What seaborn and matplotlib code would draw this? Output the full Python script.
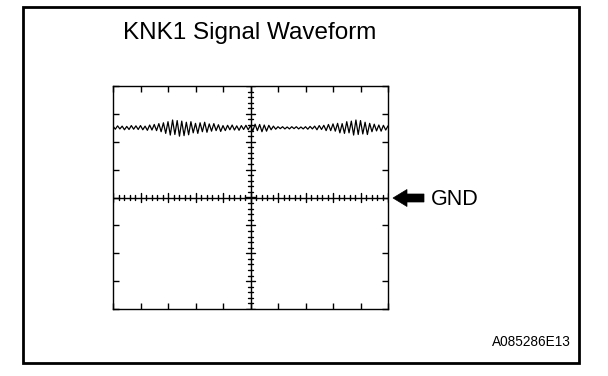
import numpy as np
import pandas as pd
import matplotlib
matplotlib.use("Agg")
import matplotlib.pyplot as plt
from matplotlib.patches import Rectangle, Polygon
import seaborn as sns

# ---- data (oscilloscope divisions) ----
title = "KNK1 Signal Waveform"
gnd_label = "GND"
code_label = "A085286E13"
x_divs = [-5, 5]
y_divs = [-4, 4]
signal_level = 2.5  # divisions above GND
# waveform deviation from signal level, sampled every 1/12 division from -5 to 5
wave_dev = [
    0.06, -0.05, 0.07, -0.04, 0.06, -0.07, 0.05, -0.06, 0.08, -0.05, 0.07, -0.06,
    0.08, -0.07, 0.06, -0.09, 0.10, -0.08,
    0.12, -0.10, 0.15, -0.14, 0.18, -0.20,
    0.22, -0.26, 0.28, -0.24, 0.26, -0.30,
    0.24, -0.28, 0.20, -0.25, 0.22, -0.18,
    0.16, -0.20, 0.18, -0.14, 0.20, -0.16,
    0.14, -0.12, 0.15, -0.10, 0.11, -0.13,
    0.08, -0.10, 0.09, -0.07, 0.10, -0.08, 0.07, -0.09, 0.08, -0.06, 0.09, -0.07,
    0.08, -0.11, 0.13, -0.10, 0.12, -0.14, 0.10, -0.12, 0.09, -0.07, 0.06, -0.05,
    0.04, -0.03, 0.04, -0.04, 0.03, -0.04, 0.04, -0.03, 0.04, -0.04, 0.03, -0.04,
    0.04, -0.05, 0.05, -0.04, 0.06, -0.07, 0.08, -0.06, 0.09, -0.10, 0.12, -0.10,
    0.14, -0.12, 0.16, -0.18, 0.15, -0.20, 0.22, -0.18, 0.24, -0.26, 0.28, -0.24,
    0.26, -0.22, 0.20, -0.24, 0.16, -0.14, 0.13, -0.11, 0.10, -0.12, 0.09, -0.08, 0.07,
]
wave_t = np.linspace(x_divs[0], x_divs[1], len(wave_dev))

df = pd.DataFrame({"t": wave_t, "v": signal_level + np.array(wave_dev)})

sns.set_style("white")
plt.rcParams["font.family"] = ["Liberation Sans", "DejaVu Sans"]

W, H = 608, 376
fig = plt.figure(figsize=(W / 100, H / 100), dpi=100)
fig.patch.set_facecolor("white")

def fx(px):
    return px / W

def fy(py):
    return 1 - py / H

# outer frame
fig.patches.append(Rectangle((fx(23), fy(363)), fx(579) - fx(23), fy(7) - fy(363),
                             transform=fig.transFigure, fill=False, lw=2.0,
                             edgecolor="black"))

ax = fig.add_axes([fx(113), fy(309), fx(388) - fx(113), fy(86) - fy(309)])
sns.lineplot(data=df, x="t", y="v", ax=ax, color="black", lw=0.9)
ax.set_xlim(*x_divs)
ax.set_ylim(*y_divs)
ax.set_xlabel("")
ax.set_ylabel("")
for s in ax.spines.values():
    s.set_visible(True)
    s.set_color("black")
    s.set_linewidth(1.0)
ax.set_xticks(np.arange(x_divs[0], x_divs[1] + 1, 1))
ax.set_yticks(np.arange(y_divs[0], y_divs[1] + 1, 1))
ax.tick_params(direction="in", length=4, width=1, top=True, right=True,
               bottom=True, left=True, labelbottom=False, labelleft=False,
               color="black")

# center cross with graticule ticks
ax.axhline(0, color="black", lw=1.0)
ax.axvline(0, color="black", lw=1.0)
for xv in np.arange(x_divs[0], x_divs[1] + 0.001, 0.2):
    major = abs(xv - round(xv)) < 1e-6
    h = 0.15 if major else 0.09
    ax.plot([xv, xv], [-h, h], color="black", lw=1.0)
for yv in np.arange(y_divs[0], y_divs[1] + 0.001, 0.2):
    major = abs(yv - round(yv)) < 1e-6
    h = 0.15 if major else 0.09
    ax.plot([-h, h], [yv, yv], color="black", lw=1.0)

# title
fig.text(fx(250), fy(39), title, ha="center", va="baseline", fontsize=17.5,
         color="black")

# GND arrow
tip_x, head_end, tail_x = 393, 407, 424
cy, head_h, shaft_h = 198, 8.5, 4.0
arrow_px = [(tip_x, cy), (head_end, cy - head_h), (head_end, cy - shaft_h),
            (tail_x, cy - shaft_h), (tail_x, cy + shaft_h), (head_end, cy + shaft_h),
            (head_end, cy + head_h)]
fig.patches.append(Polygon([(fx(a), fy(b)) for a, b in arrow_px], closed=True,
                           transform=fig.transFigure, facecolor="black",
                           edgecolor="black", lw=0.5))
fig.text(fx(431), fy(205), gnd_label, ha="left", va="baseline", fontsize=15.5,
         color="black")

# figure code
fig.text(fx(571), fy(346), code_label, ha="right", va="baseline", fontsize=9.8,
         color="black")

fig.savefig("out.png", dpi=100, facecolor="white")
